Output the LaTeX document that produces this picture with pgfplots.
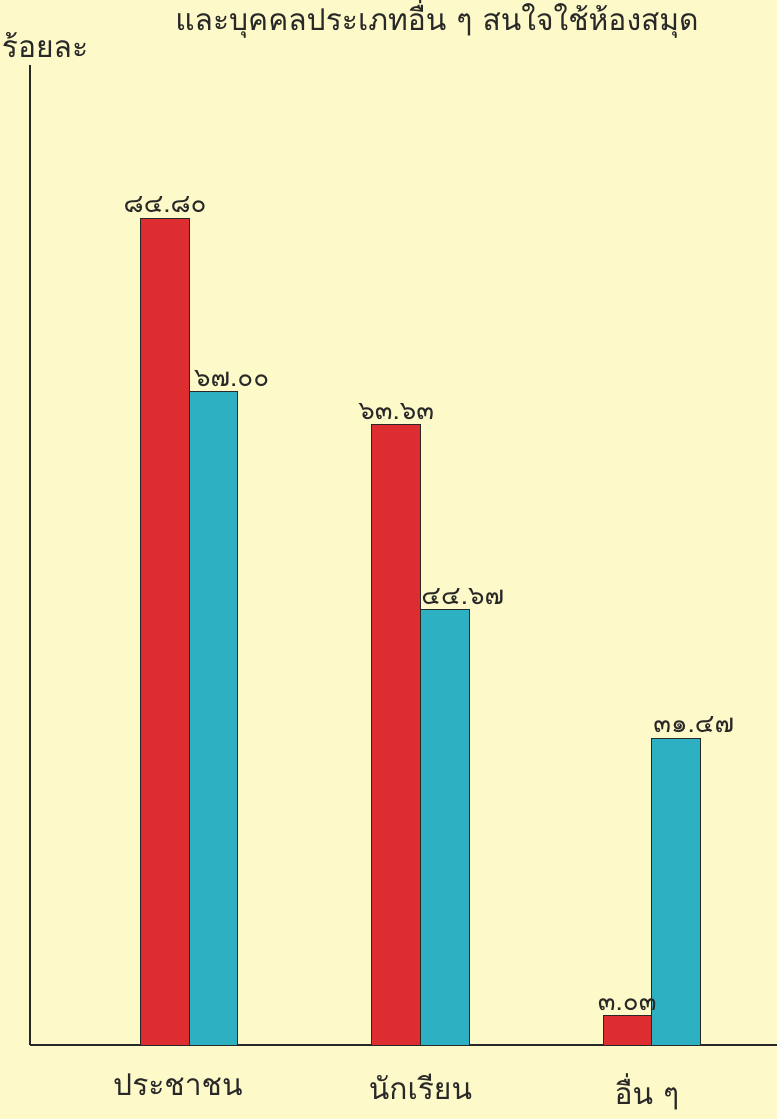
\documentclass[border=0pt]{standalone}
\usepackage{fontspec}
\setmainfont[Script=Thai]{Loma}
\usepackage{pgfplots}
\pgfplotsset{compat=1.18}
\definecolor{paper}{RGB}{253,249,200}
\definecolor{barred}{RGB}{222,45,48}
\definecolor{barcyan}{RGB}{45,176,194}
\definecolor{ink}{RGB}{40,40,40}
\begin{document}
\begin{tikzpicture}
% paper background, also fixes the page size
\useasboundingbox (-15pt,-37pt) rectangle (373.5pt,522.5pt);
\fill[paper] (-15pt,-37pt) rectangle (373.5pt,522.5pt);
\begin{axis}[
    scale only axis,
    width=373.5pt, height=490pt,
    xmin=-0.69, xmax=2.543,
    ymin=0, ymax=100.5,
    axis x line*=bottom, axis y line*=left,
    axis line style={ink, line width=0.9pt, -},
    ytick=\empty,
    xtick={-0.05,1,1.98},
    xticklabels={ประชาชน,นักเรียน,อื่น ๆ},
    major tick length=0pt,
    xticklabel style={font=\fontsize{15}{18}\selectfont, text=ink, yshift=-11pt},
    ybar=0pt, bar width=0.21,
    point meta=explicit symbolic,
    nodes near coords,
    every node near coord/.append style={font=\fontsize{13}{15}\selectfont, text=ink, yshift=-1pt},
    clip=false,
]
\addplot[fill=barred, draw=ink, line width=0.5pt] coordinates {
    (0,84.80) [๘๔.๘๐]
    (1,63.63) [๖๓.๖๓]
    (2,3.03)  [๓.๐๓]
};
\addplot[fill=barcyan, draw=ink, line width=0.5pt,
    every node near coord/.append style={xshift=9pt}] coordinates {
    (0,67.00) [๖๗.๐๐]
    (1,44.67) [๔๔.๖๗]
    (2,31.47) [๓๑.๔๗]
};
\end{axis}
\node[font=\fontsize{15}{18}\selectfont, text=ink] at (203.5pt,513pt) {และบุคคลประเภทอื่น ๆ สนใจใช้ห้องสมุด};
\node[font=\fontsize{15}{18}\selectfont, text=ink, inner sep=0pt] at (7.5pt,500pt) {ร้อยละ};
\end{tikzpicture}
\end{document}
